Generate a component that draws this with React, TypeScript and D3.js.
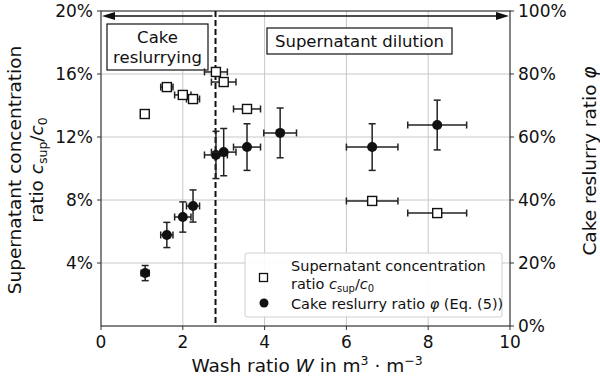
import React from "react";
import * as d3 from "d3";

const supX = [1.07, 1.61, 2.0, 2.25, 2.81, 3.0, 3.57, 6.63, 8.22];
const supXErr = [0.1, 0.15, 0.2, 0.16, 0.28, 0.3, 0.33, 0.63, 0.72];
const supY = [0.1346, 0.1517, 0.1467, 0.1441, 0.1613, 0.1549, 0.1378, 0.0794, 0.0717];

const phiX = [1.08, 1.61, 2.0, 2.25, 2.81, 3.0, 3.57, 4.38, 6.63, 8.22];
const phiXErr = [0.1, 0.15, 0.2, 0.16, 0.28, 0.3, 0.33, 0.4, 0.63, 0.72];
const phiY = [0.168, 0.289, 0.346, 0.381, 0.543, 0.552, 0.568, 0.613, 0.568, 0.638];
const phiYErr = [0.024, 0.04, 0.048, 0.051, 0.075, 0.075, 0.074, 0.079, 0.074, 0.079];

const xTicks = [0, 2, 4, 6, 8, 10];
const leftTicks = [0.04, 0.08, 0.12, 0.16, 0.2];
const rightTicks = [0, 0.2, 0.4, 0.6, 0.8, 1.0];
const boundaryW = 2.8;

const FONT = "DejaVu Sans, sans-serif";

export default function App() {
  const W = 600, H = 376;
  const x = d3.scaleLinear().domain([0, 10]).range([101, 510]);
  const yL = d3.scaleLinear().domain([0, 0.2]).range([326, 11]);
  const yR = d3.scaleLinear().domain([0, 1]).range([326, 11]);
  const ebColor = "#222";
  const cap = 3.5;
  const fs = 17;
  const lfs = 18.5;

  const hErr = (cx: number, cy: number, ex: number, key: string) => (
    <g key={key} stroke={ebColor} strokeWidth={1.5}>
      <line x1={x(cx - ex)} x2={x(cx + ex)} y1={cy} y2={cy} />
      <line x1={x(cx - ex)} x2={x(cx - ex)} y1={cy - cap} y2={cy + cap} />
      <line x1={x(cx + ex)} x2={x(cx + ex)} y1={cy - cap} y2={cy + cap} />
    </g>
  );

  return (
    <svg width={W} height={H} style={{ display: "block", position: "absolute", left: 0, top: 0 }} fontFamily={FONT}>
      <rect width={W} height={H} fill="white" />
      {/* grid */}
      <g stroke="#c8c8c8" strokeWidth={1}>
        {xTicks.slice(1, -1).map((t) => (
          <line key={"gx" + t} x1={x(t)} x2={x(t)} y1={yL(0.2)} y2={yL(0)} />
        ))}
        {leftTicks.slice(0, -1).map((t) => (
          <line key={"gy" + t} x1={x(0)} x2={x(10)} y1={yL(t)} y2={yL(t)} />
        ))}
      </g>
      {/* frame */}
      <rect x={x(0)} y={yL(0.2)} width={x(10) - x(0)} height={yL(0) - yL(0.2)} fill="none" stroke="#333" strokeWidth={1.2} />
      {/* x ticks */}
      {xTicks.map((t) => (
        <g key={"xt" + t}>
          <line x1={x(t)} x2={x(t)} y1={326} y2={330} stroke="#333" />
          <text x={x(t)} y={348} fontSize={fs} textAnchor="middle" fill="#111">{t}</text>
        </g>
      ))}
      {/* left ticks */}
      {leftTicks.map((t) => (
        <g key={"lt" + t}>
          <line x1={97} x2={101} y1={yL(t)} y2={yL(t)} stroke="#333" />
          <text x={93} y={yL(t) + 6} fontSize={fs} textAnchor="end" fill="#111">{d3.format(".0%")(t)}</text>
        </g>
      ))}
      {/* right ticks */}
      {rightTicks.map((t) => (
        <g key={"rt" + t}>
          <line x1={510} x2={514} y1={yR(t)} y2={yR(t)} stroke="#333" />
          <text x={518} y={yR(t) + 6} fontSize={fs} textAnchor="start" fill="#111">{d3.format(".0%")(t)}</text>
        </g>
      ))}
      {/* dashed boundary */}
      <line x1={x(boundaryW)} x2={x(boundaryW)} y1={yL(0.2)} y2={yL(0)} stroke="#111" strokeWidth={2} strokeDasharray="6,3" />
      {/* arrows */}
      <g stroke="#111" strokeWidth={1.5}>
        <line x1={x(0) + 10} x2={x(boundaryW) - 3} y1={16} y2={16} />
        <line x1={x(boundaryW) + 3} x2={x(10) - 10} y1={16} y2={16} />
      </g>
      <path d={`M${x(0) + 1},16 L${x(0) + 14},12 L${x(0) + 14},20 Z`} fill="#111" />
      <path d={`M${x(10) - 1},16 L${x(10) - 14},12 L${x(10) - 14},20 Z`} fill="#111" />
      {/* text boxes */}
      <rect x={107} y={24} width={101} height={46} fill="white" stroke="#111" strokeWidth={1.2} />
      <text x={157.5} y={43} fontSize={16.5} textAnchor="middle" fill="#111">Cake</text>
      <text x={157.5} y={63} fontSize={16.5} textAnchor="middle" fill="#111">reslurrying</text>
      <rect x={267} y={28} width={185} height={26} fill="white" stroke="#111" strokeWidth={1.2} />
      <text x={359.5} y={47} fontSize={16.5} textAnchor="middle" fill="#111">Supernatant dilution</text>
      {/* supernatant squares */}
      {supX.map((v, i) => hErr(v, yL(supY[i]), supXErr[i], "se" + i))}
      {supX.map((v, i) => (
        <rect key={"sq" + i} x={x(v) - 4.5} y={yL(supY[i]) - 4.5} width={9} height={9} fill="white" stroke="#111" strokeWidth={1.4} />
      ))}
      {/* phi circles */}
      {phiX.map((v, i) => (
        <g key={"pe" + i}>
          {hErr(v, yR(phiY[i]), phiXErr[i], "ph" + i)}
          <g stroke={ebColor} strokeWidth={1.5}>
            <line x1={x(v)} x2={x(v)} y1={yR(phiY[i] - phiYErr[i])} y2={yR(phiY[i] + phiYErr[i])} />
            <line x1={x(v) - cap} x2={x(v) + cap} y1={yR(phiY[i] - phiYErr[i])} y2={yR(phiY[i] - phiYErr[i])} />
            <line x1={x(v) - cap} x2={x(v) + cap} y1={yR(phiY[i] + phiYErr[i])} y2={yR(phiY[i] + phiYErr[i])} />
          </g>
          <circle cx={x(v)} cy={yR(phiY[i])} r={5} fill="#111" />
        </g>
      ))}
      {/* legend */}
      <rect x={245} y={253} width={257} height={64} fill="white" fillOpacity={0.9} stroke="#d0d0d0" strokeWidth={1} rx={2} />
      <rect x={259.5} y={273.5} width={8} height={8} fill="white" stroke="#111" strokeWidth={1.3} />
      <circle cx={264} cy={303} r={4.5} fill="#111" />
      <text x={291} y={271} fontSize={14.5} fill="#111">Supernatant concentration</text>
      <text x={291} y={289} fontSize={14.5} fill="#111">
        ratio <tspan fontStyle="italic">c</tspan>
        <tspan fontSize={10} dy={3}>sup</tspan>
        <tspan dy={-3}>/</tspan>
        <tspan fontStyle="italic">c</tspan>
        <tspan fontSize={10} dy={3}>0</tspan>
      </text>
      <text x={291} y={309} fontSize={14.5} fill="#111">
        Cake reslurry ratio <tspan fontStyle="italic">φ</tspan> (Eq. (5))
      </text>
      {/* x label */}
      <text x={307} y={372} fontSize={lfs} textAnchor="middle" fill="#111">
        Wash ratio <tspan fontStyle="italic">W</tspan> in m<tspan fontSize={12.5} dy={-7}>3</tspan>
        <tspan dy={7}> · m</tspan>
        <tspan fontSize={12.5} dy={-7}>−3</tspan>
      </text>
      {/* left label */}
      <g transform="translate(21,170) rotate(-90)">
        <text x={0} y={0} fontSize={lfs} textAnchor="middle" fill="#111">Supernatant concentration</text>
        <text x={0} y={22} fontSize={lfs} textAnchor="middle" fill="#111">
          ratio <tspan fontStyle="italic">c</tspan>
          <tspan fontSize={12.5} dy={4}>sup</tspan>
          <tspan dy={-4}>/</tspan>
          <tspan fontStyle="italic">c</tspan>
          <tspan fontSize={12.5} dy={4}>0</tspan>
        </text>
      </g>
      {/* right label */}
      <g transform="translate(596,161) rotate(-90)">
        <text x={0} y={0} fontSize={lfs} textAnchor="middle" fill="#111">
          Cake reslurry ratio <tspan fontStyle="italic">φ</tspan>
        </text>
      </g>
    </svg>
  );
}
